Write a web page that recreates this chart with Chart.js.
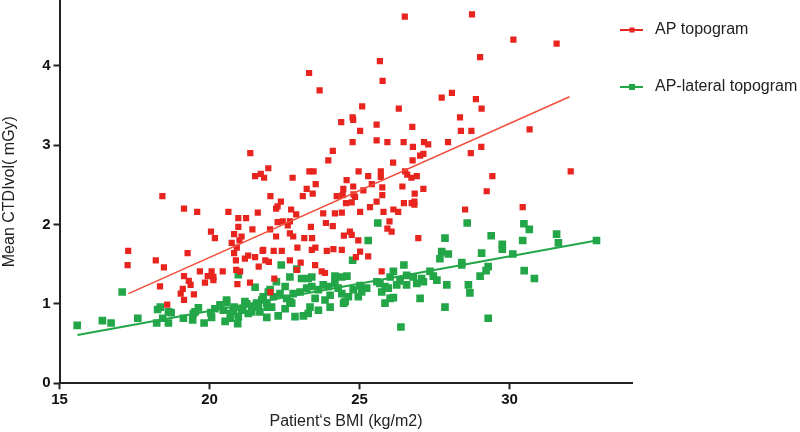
<!DOCTYPE html>
<html>
<head>
<meta charset="utf-8">
<script src="https://cdn.jsdelivr.net/npm/chart.js@4"></script>
<style>
  html, body { margin: 0; padding: 0; background: #fff; }
  #wrap { width: 800px; height: 432px; position: relative; }
</style>
</head>
<body>
<div id="wrap"><canvas id="bmiChart"></canvas></div>
<script>
// AP topogram (red)
const redBMI = [23.32, 23.67, 21.36, 23.96, 21.96, 21.52, 21.71, 21.82, 22.77, 23.33, 23.47, 23.54, 23.24, 23.44, 23.11, 22.03, 18.43,
  26.51, 28.75, 30.13, 31.57, 29.02, 25.68, 25.77, 27.74, 28.08, 28.88, 29.07, 25.09, 26.31, 24.39, 24.77, 24.79, 25.57, 26.76, 25.02,
  28.35, 28.38, 28.73, 30.67, 24.11, 24.77, 25.57, 25.93, 26.47, 26.78, 27.15, 27.29, 27.95, 29.06, 28.71, 27.02, 27.13, 26.77, 26.12,
  24.97, 25.29, 25.71, 25.71, 26.52, 26.59, 26.91, 26.73, 29.43, 32.04, 24.57, 24.46, 24.79, 25.13, 25.41, 25.76, 25.76, 26.43, 27.13,
  26.84, 29.24, 24.24, 24.85, 19.15, 19.59, 20.63, 21.61, 20.96, 21.22, 20.96, 21.43, 20.05, 20.82, 21.07, 20.18, 21.00, 20.74, 20.91,
  21.79, 19.27, 20.82, 21.29, 21.18, 20.88, 21.52, 18.48, 20.89, 21.02, 19.68, 20.07, 20.44, 19.15, 19.94, 20.13, 19.31, 19.85, 20.13,
  19.37, 20.93, 21.35, 18.35, 19.11, 19.04, 19.48, 19.15, 18.59, 17.29, 17.27, 18.21, 22.38, 22.22, 22.27, 22.72, 22.89, 22.27, 22.44,
  22.61, 22.68, 22.02, 22.22, 22.68, 22.79, 23.16, 23.42, 23.38, 23.88, 21.77, 22.14, 22.41, 22.93, 23.53, 23.91, 21.86, 21.98, 22.68,
  23.04, 23.52, 21.64, 22.16, 22.03, 24.44, 24.80, 24.74, 24.55, 23.79, 24.18, 24.41, 25.35, 25.57, 25.02, 24.11, 24.68, 24.74, 24.96,
  24.48, 23.41, 24.13, 24.41, 25.02, 24.88, 25.29, 22.91, 23.74, 23.85, 25.80, 26.48, 26.74, 26.83, 26.83, 26.13, 26.29, 28.52, 26.00,
  25.93, 26.07, 26.96, 25.74, 30.44];
const redCTDI = [3.91, 3.69, 2.90, 2.81, 2.71, 2.61, 2.64, 2.59, 2.59, 2.67, 2.67, 2.51, 2.45, 2.39, 2.36, 2.36, 2.36,
  4.62, 4.65, 4.33, 4.28, 4.11, 4.06, 3.81, 3.60, 3.66, 3.58, 3.46, 3.49, 3.46, 3.29, 3.35, 3.32, 3.26, 3.23, 3.18,
  3.35, 3.18, 3.18, 3.20, 2.93, 3.04, 3.06, 3.04, 3.04, 2.98, 3.04, 3.01, 3.04, 2.98, 2.90, 2.87, 2.89, 2.81, 2.78,
  2.67, 2.61, 2.67, 2.60, 2.67, 2.63, 2.61, 2.59, 2.61, 2.67, 2.56, 2.45, 2.48, 2.43, 2.51, 2.47, 2.37, 2.48, 2.45,
  2.39, 2.42, 2.36, 2.35, 2.20, 2.16, 2.16, 2.15, 2.08, 2.08, 1.97, 1.94, 1.91, 1.88, 1.85, 1.83, 1.80, 1.77, 1.71,
  1.68, 1.64, 1.64, 1.61, 1.57, 1.55, 1.59, 1.46, 1.43, 1.41, 1.41, 1.41, 1.41, 1.35, 1.35, 1.34, 1.29, 1.27, 1.30,
  1.24, 1.25, 1.27, 1.22, 1.19, 1.13, 1.12, 1.05, 0.99, 1.67, 1.49, 1.55, 2.29, 2.20, 2.23, 2.19, 2.13, 2.03, 2.04,
  1.99, 2.04, 1.94, 1.85, 1.89, 1.85, 1.83, 1.83, 1.97, 2.02, 1.67, 1.67, 1.67, 1.71, 1.71, 1.67, 1.55, 1.53, 1.55,
  1.52, 1.49, 1.47, 1.32, 1.15, 2.37, 2.38, 2.28, 2.27, 2.14, 2.14, 2.15, 2.22, 2.29, 2.16, 1.98, 1.91, 1.87, 1.80,
  1.86, 1.68, 1.69, 1.68, 1.66, 1.59, 1.60, 1.43, 1.41, 1.39, 2.16, 2.27, 2.27, 2.29, 2.25, 2.19, 2.16, 2.19, 2.04,
  1.95, 1.91, 1.83, 1.41, 2.22];

// AP-lateral topogram (green)
const greenBMI = [15.59, 16.43, 16.72, 17.09, 17.61, 18.24, 18.27, 18.44, 18.63, 18.72, 19.13, 19.44, 19.52, 19.63, 19.82, 20.07,
  20.04, 20.18, 20.96, 21.52, 18.36, 18.63, 19.46, 20.35, 20.46, 20.57, 20.71, 20.82, 20.96, 21.07, 21.18, 21.29, 21.41, 21.57,
  21.68, 21.79, 21.91, 21.96, 20.52, 20.69, 25.29, 24.77, 25.61, 22.39, 22.91, 22.23, 22.68, 23.07, 23.41, 24.18, 24.41, 24.58,
  25.02, 25.24, 25.58, 22.02, 22.13, 22.35, 22.52, 22.57, 22.74, 22.79, 23.02, 23.24, 23.41, 23.52, 23.63, 23.79, 23.96, 24.02,
  24.18, 24.29, 24.41, 24.52, 24.63, 24.79, 24.96, 25.07, 22.29, 22.85, 23.13, 23.63, 24.02, 24.47, 22.07, 22.52, 22.68, 23.35,
  23.85, 28.59, 27.85, 27.74, 27.96, 27.68, 28.41, 29.07, 29.29, 29.02, 26.48, 26.13, 26.02, 26.24, 26.35, 26.57, 26.79, 27.07,
  27.35, 27.46, 27.58, 27.13, 26.91, 26.57, 25.68, 25.85, 25.74, 25.96, 26.02, 25.85, 26.13, 27.91, 28.63, 28.68, 27.02, 27.85,
  26.38, 29.29, 30.48, 30.66, 29.39, 29.76, 29.76, 30.44, 30.11, 28.41, 29.22, 30.49, 30.83, 31.57, 31.63, 32.90, 23.29, 21.91,
  20.94, 23.29, 20.57, 20.79, 21.11, 21.24, 21.41, 21.63, 21.74, 21.93];
const greenCTDI = [0.73, 0.79, 0.76, 1.15, 0.82, 0.76, 0.93, 0.82, 0.76, 0.89, 0.82, 0.80, 0.90, 0.95, 0.76, 0.83,
  0.89, 0.94, 1.37, 1.21, 0.96, 0.90, 0.88, 0.99, 0.92, 1.02, 0.88, 0.96, 0.84, 0.92, 1.03, 0.88, 0.96, 1.01,
  0.90, 1.09, 1.01, 1.15, 0.78, 0.82, 1.80, 1.55, 2.02, 1.49, 1.44, 1.28, 1.34, 1.32, 1.34, 1.35, 1.34, 1.35,
  1.23, 1.20, 1.28, 1.18, 1.09, 1.13, 1.22, 1.07, 1.01, 1.13, 1.15, 1.20, 1.22, 1.07, 1.18, 1.24, 1.22, 1.11,
  1.26, 1.20, 1.13, 1.03, 1.09, 1.18, 1.09, 1.15, 0.85, 0.84, 0.85, 0.92, 0.96, 1.01, 0.96, 0.94, 1.03, 0.96,
  1.05, 2.02, 1.83, 1.66, 1.63, 1.57, 1.52, 1.64, 1.47, 1.35, 1.49, 1.41, 1.34, 1.24, 1.29, 1.36, 1.34, 1.32,
  1.41, 1.35, 1.30, 1.28, 1.26, 1.24, 1.26, 1.22, 1.15, 1.20, 1.07, 1.01, 1.08, 1.24, 1.24, 1.14, 1.07, 0.96,
  0.71, 0.82, 2.01, 1.94, 1.86, 1.75, 1.69, 1.80, 1.63, 1.49, 1.42, 1.42, 1.32, 1.88, 1.77, 1.80, 1.32, 0.83,
  0.75, 0.88, 1.05, 0.91, 0.93, 1.00, 0.90, 0.97, 1.05, 0.96];

// fitted lines (end points)
const redFitBMI = [17.3, 32.0];
const redFitCTDI = [1.13, 3.61];
const greenFitBMI = [15.6, 32.9];
const greenFitCTDI = [0.61, 1.80];

const xTicks = [15, 20, 25, 30];
const yTicks = [0, 1, 2, 3, 4];
const seriesNames = ['AP topogram', 'AP-lateral topogram'];

const RED = 'rgb(232, 36, 30)';
const GREEN = 'rgb(34, 166, 72)';

function toPoints(xs, ys) {
    return xs.map((x, i) => ({ x: x, y: ys[i] }));
}

// legend drawn at the right, like the original figure
const sideLegend = {
    id: 'sideLegend',
    afterDraw(chart) {
        const ctx = chart.ctx;
        const items = [
            { text: seriesNames[0], color: RED, y: 30, size: 5 },
            { text: seriesNames[1], color: GREEN, y: 87, size: 6 }
        ];
        ctx.save();
        items.forEach(it => {
            ctx.strokeStyle = it.color;
            ctx.lineWidth = 2;
            ctx.beginPath();
            ctx.moveTo(620, it.y);
            ctx.lineTo(643, it.y);
            ctx.stroke();
            ctx.fillStyle = it.color;
            ctx.fillRect(632 - it.size / 2, it.y - it.size / 2, it.size, it.size);
            ctx.fillStyle = '#222';
            ctx.font = '16px "Liberation Sans", Arial, sans-serif';
            ctx.textBaseline = 'middle';
            ctx.textAlign = 'left';
            ctx.fillText(it.text, 655, it.y);
        });
        ctx.restore();
    }
};

const ctx = document.getElementById('bmiChart').getContext('2d');
new Chart(ctx, {
    type: 'scatter',
    data: {
        datasets: [{
            label: seriesNames[0] + ' fit',
            data: toPoints(redFitBMI, redFitCTDI),
            showLine: true,
            borderColor: 'rgb(240, 80, 60)',
            borderWidth: 1.6,
            pointRadius: 0
        }, {
            label: seriesNames[1] + ' fit',
            data: toPoints(greenFitBMI, greenFitCTDI),
            showLine: true,
            borderColor: GREEN,
            borderWidth: 2,
            pointRadius: 0
        }, {
            label: seriesNames[0],
            data: toPoints(redBMI, redCTDI),
            pointStyle: 'rect',
            pointRadius: 4.4,
            pointBackgroundColor: RED,
            pointBorderWidth: 0,
            borderColor: RED
        }, {
            label: seriesNames[1],
            data: toPoints(greenBMI, greenCTDI),
            pointStyle: 'rect',
            pointRadius: 5.4,
            pointBackgroundColor: GREEN,
            pointBorderWidth: 0,
            borderColor: GREEN
        }]
    },
    options: {
        responsive: true,
        maintainAspectRatio: false,
        animation: false,
        layout: { autoPadding: false, padding: { top: 0, left: 0, bottom: 0, right: 167.5 } },
        plugins: {
            legend: { display: false },
            tooltip: { enabled: false }
        },
        scales: {
            x: {
                type: 'linear',
                min: 15,
                max: 34.1,
                afterBuildTicks: scale => { scale.ticks = xTicks.map(v => ({ value: v })); },
                afterFit: scale => {
                    scale.height = 48.7;
                    scale.paddingLeft = 0;
                    scale.paddingRight = 0;
                },
                ticks: {
                    color: '#111',
                    font: { family: '"Liberation Sans", Arial, sans-serif', size: 15, weight: 'bold' },
                    padding: 2,
                    maxRotation: 0
                },
                grid: { drawOnChartArea: false, tickLength: 6, tickWidth: 2, tickColor: '#222' },
                border: { color: '#222', width: 2 },
                title: {
                    display: true,
                    text: 'Patient\u2018s BMI (kg/m2)',
                    color: '#222',
                    font: { family: '"Liberation Sans", Arial, sans-serif', size: 16 },
                    padding: { top: 0, bottom: 1 }
                }
            },
            y: {
                type: 'linear',
                min: 0,
                max: 4.83,
                afterBuildTicks: scale => { scale.ticks = yTicks.map(v => ({ value: v })); },
                afterFit: scale => {
                    scale.width = 59.5;
                    scale.paddingTop = 0;
                    scale.paddingBottom = 0;
                },
                ticks: {
                    color: '#111',
                    font: { family: '"Liberation Sans", Arial, sans-serif', size: 15, weight: 'bold' },
                    padding: 3
                },
                grid: { drawOnChartArea: false, tickLength: 6, tickWidth: 2, tickColor: '#222' },
                border: { color: '#222', width: 2 },
                title: {
                    display: true,
                    text: 'Mean CTDIvol( mGy)',
                    color: '#222',
                    font: { family: '"Liberation Sans", Arial, sans-serif', size: 16 },
                    padding: { top: 0, bottom: 0 }
                }
            }
        }
    },
    plugins: [sideLegend]
});
</script>
</body>
</html>
